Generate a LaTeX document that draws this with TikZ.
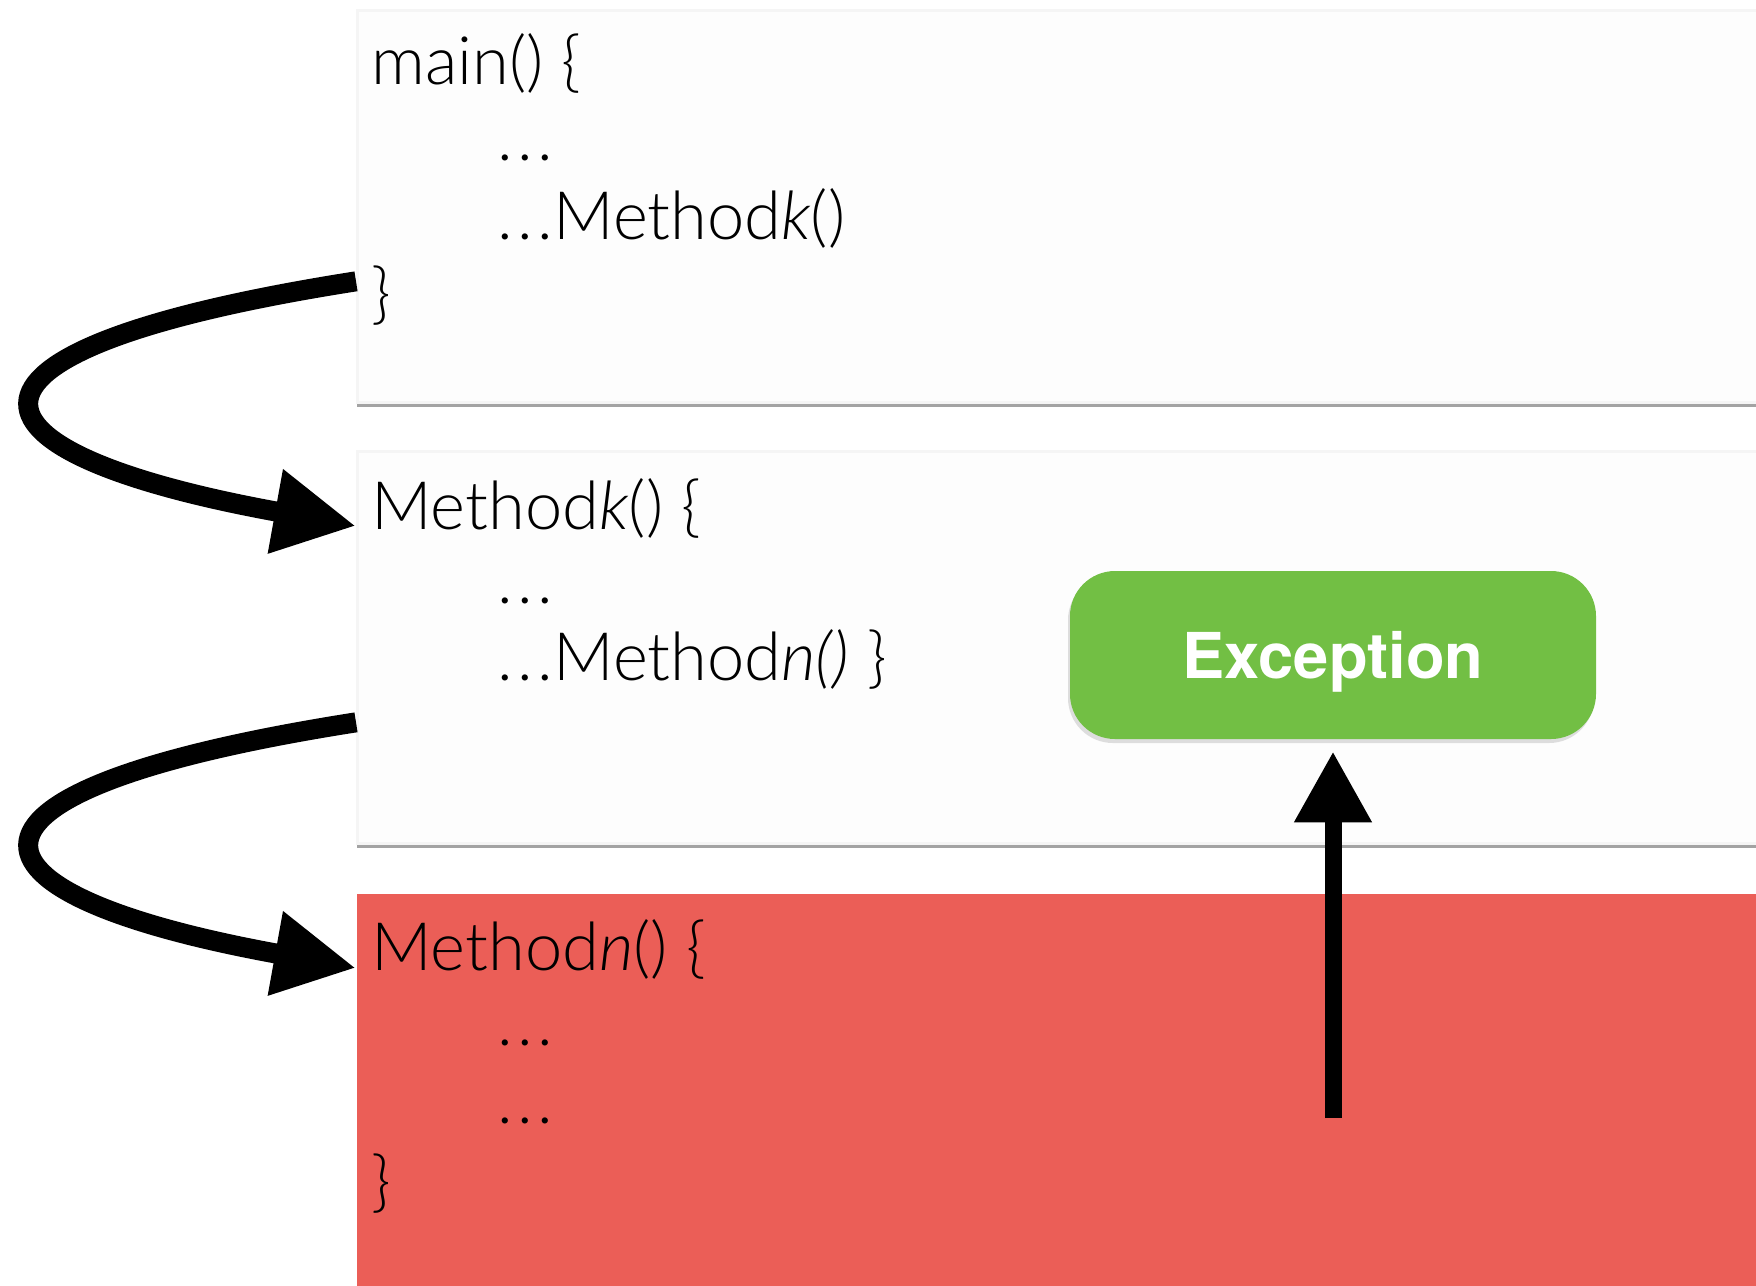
\documentclass[tikz,border=0pt]{standalone}
\usepackage{fontspec}
\setmainfont{Lato}[UprightFont=* Light, ItalicFont=* Light Italic]
\newfontfamily\boldsans{TeX Gyre Heros}
\usetikzlibrary{arrows.meta,shadows,calc}
\definecolor{stackred}{RGB}{235,94,87}
\definecolor{excgreen}{RGB}{114,191,68}
\definecolor{framewhite}{RGB}{253,253,253}
\newcommand{\elide}{.\kern0.07em.\kern0.07em.}
\tikzset{every picture/.style={line width=0.75pt}}

\begin{document}
\begin{tikzpicture}[x=0.1mm,y=-0.1mm,
    frame/.style={anchor=north west, inner sep=0pt, minimum width=140mm, minimum height=39.2mm,
        fill=framewhite, draw=black!4,
        drop shadow={shadow xshift=0mm, shadow yshift=-0.45mm, opacity=0.8, fill=black!45}},
    redframe/.style={anchor=north west, inner sep=0pt, minimum width=140mm, minimum height=39.2mm,
        fill=stackred},
    codeline/.style={anchor=base west, inner sep=0pt, font=\fontsize{19}{23}\selectfont},
    excbox/.style={rounded corners=4.5mm, minimum width=52.6mm, minimum height=16.8mm, text depth=0pt,
        fill=excgreen, text=white, font=\boldsans\bfseries\fontsize{18}{22}\selectfont,
        drop shadow={shadow xshift=-0.2mm, shadow yshift=-0.4mm, opacity=0.25}},
    callarrow/.style={line width=2mm, -{Triangle[length=8.2mm,width=8mm]}},
    throwarrow/.style={line width=1.7mm, -{Triangle[length=7.1mm,width=7.3mm]}}]

    \useasboundingbox (0,0) rectangle (1756,1285);
    \fill[white] (0,0) rectangle (1756,1285);

    % Stack frames
    \node[frame] (mainbox) at (356,9) {};
    \node[codeline] (main1) at (370,84) {main() \{};
    \node[codeline] (main2) at (496,160) {\elide};
    \node[codeline] (main3) at (496,239) {\elide Method\textit{k}()};
    \node[codeline] (main4) at (370,316) {\}};

    \node[frame] (kbox) at (356,450) {};
    \node[codeline] (k1) at (370,529) {Method\textit{k}() \{};
    \node[codeline] (k2) at (496,603) {\elide};
    \node[codeline] (k3) at (496,680) {\elide Method\textit{n()} \}};

    \node[redframe] (nbox) at (356,893) {};
    \node[codeline] (n1) at (370,970) {Method\textit{n}() \{};
    \node[codeline] (n2) at (496,1045) {\elide};
    \node[codeline] (n3) at (496,1123) {\elide};
    \node[codeline] (n4) at (370,1204) {\}};

    % Exception
    \node[excbox] (exc) at (1333,655) {Exception};

    % Calls
    \coordinate (out1) at ($(mainbox.west)+(0,75)$);
    \coordinate (in1) at ($(kbox.north west)+(0,76)$);
    \coordinate (out2) at ($(kbox.west)+(0,75)$);
    \coordinate (in2) at ($(nbox.north west)+(0,75)$);
    \draw[callarrow] (out1) .. controls +(-434,68) and +(-414,-75) .. (in1);
    \draw[callarrow] (out2) .. controls +(-434,68) and +(-414,-75) .. (in2);

    % Throw
    \coordinate (raise) at (1333,1118);
    \draw[throwarrow, shorten >=1.1mm] (raise) -- (exc.south);
\end{tikzpicture}
\end{document}
